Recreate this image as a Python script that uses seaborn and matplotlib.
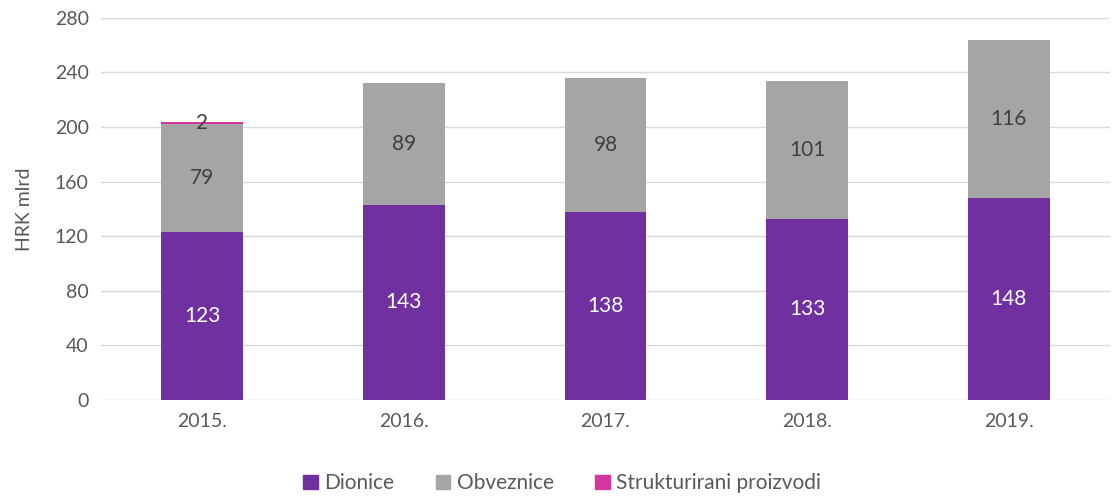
import seaborn as sns
import matplotlib.pyplot as plt
import pandas as pd
import numpy as np
from matplotlib.patches import Patch

years = ["2015.", "2016.", "2017.", "2018.", "2019."]
dionice = [123, 143, 138, 133, 148]
obveznice = [79, 89, 98, 101, 116]
strukturirani = [2, 0, 0, 0, 0]

c_dio = "#7030A0"
c_obv = "#A5A5A5"
c_str = "#D4359F"
txt = "#595959"

sns.set_theme(style="white")
plt.rcParams["font.family"] = ["Lato", "DejaVu Sans"]

df = pd.DataFrame({"year": years, "dionice": dionice,
                   "obveznice": obveznice, "strukturirani": strukturirani})
df["lvl2"] = df["dionice"] + df["obveznice"]
df["lvl3"] = df["lvl2"] + df["strukturirani"]

fig = plt.figure(figsize=(11.13, 4.97), dpi=100)
ax = fig.add_axes([0.091, 0.195, 0.906, 0.769])

# stacked bars: draw cumulative totals from top layer down
sns.barplot(data=df, x="year", y="lvl3", color=c_str, width=0.405,
            saturation=1, linewidth=0, ax=ax, zorder=2)
sns.barplot(data=df, x="year", y="lvl2", color=c_obv, width=0.405,
            saturation=1, linewidth=0, ax=ax, zorder=3)
sns.barplot(data=df, x="year", y="dionice", color=c_dio, width=0.405,
            saturation=1, linewidth=0, ax=ax, zorder=4)

# segment labels
for i in range(len(years)):
    d, o, s = dionice[i], obveznice[i], strukturirani[i]
    ax.text(i, d / 2, str(d), ha="center", va="center", color="white",
            fontsize=15, zorder=5)
    ax.text(i, d + o / 2, str(o), ha="center", va="center", color="#404040",
            fontsize=15, zorder=5)
    if s:
        ax.text(i, d + o + s / 2, str(s), ha="center", va="center",
                color="#404040", fontsize=15, zorder=5)

ax.set_ylim(0, 280)
ax.set_xlim(-0.5, 4.5)
ax.set_yticks(np.arange(0, 281, 40))
ax.yaxis.grid(True, color="#D9D9D9", linewidth=1, zorder=0)
ax.set_axisbelow(True)
for sp in ax.spines.values():
    sp.set_visible(False)
ax.tick_params(axis="both", length=0, labelsize=14, colors=txt, pad=9)
ax.set_xlabel("")
ax.set_ylabel("HRK mlrd", fontsize=14, color=txt, labelpad=16)

handles = [Patch(color=c_dio, label="Dionice"),
           Patch(color=c_obv, label="Obveznice"),
           Patch(color=c_str, label="Strukturirani proizvodi")]
leg = fig.legend(handles=handles, loc="center", bbox_to_anchor=(0.505, 0.028),
                 ncol=3, frameon=False, fontsize=15, handlelength=0.7,
                 handleheight=0.7, handletextpad=0.3, columnspacing=2.0)
for t in leg.get_texts():
    t.set_color(txt)

fig.savefig("out.png", dpi=100)
